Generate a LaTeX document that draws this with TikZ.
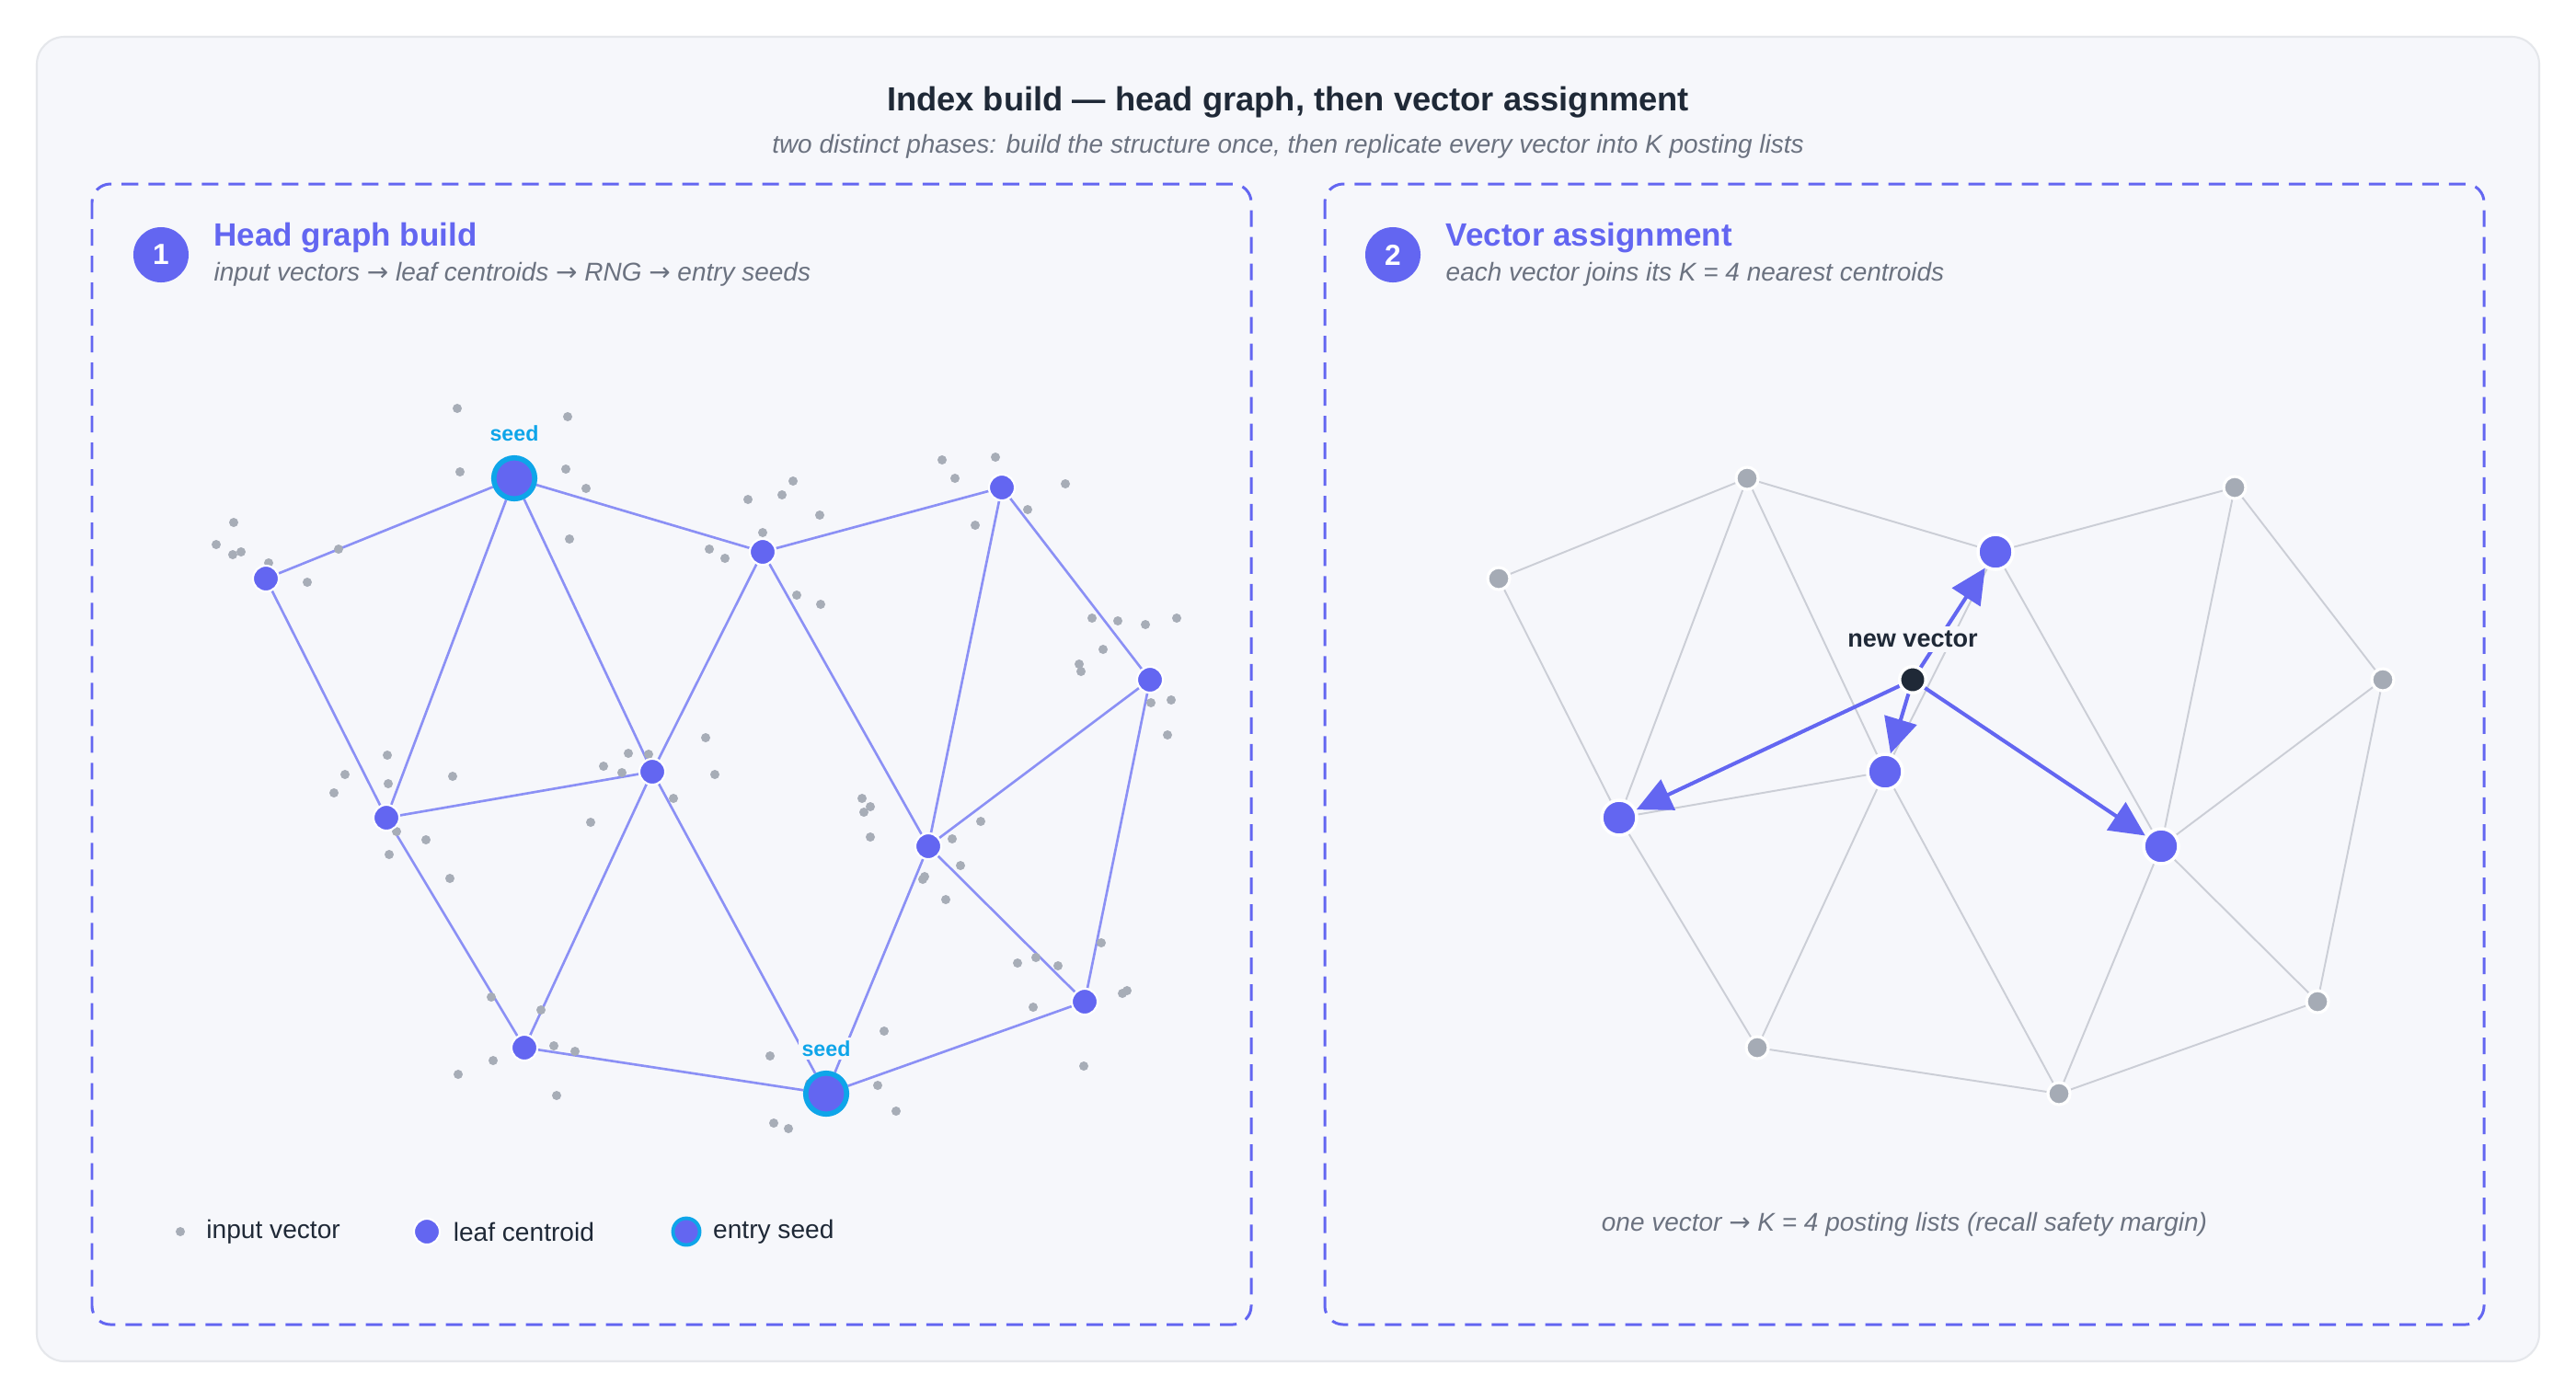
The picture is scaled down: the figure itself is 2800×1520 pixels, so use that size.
\documentclass[tikz,border=0pt]{standalone}
\usepackage{fontspec}
\setmainfont{Liberation Sans}
\newfontfamily\arrowfont{DejaVu Sans}
\usetikzlibrary{arrows.meta,positioning}
\newcommand{\toarrow}{{\arrowfont\char"2192}}
\definecolor{indigo}{HTML}{6366F1}
\definecolor{edgeblue}{HTML}{8B90F5}
\definecolor{sky}{HTML}{0EA5E9}
\definecolor{dotgray}{HTML}{A7ADB7}
\definecolor{nodegray}{HTML}{A5ABB5}
\definecolor{linegray}{HTML}{CBCED6}
\definecolor{ink}{HTML}{1F2937}
\definecolor{muted}{HTML}{6B7280}
\definecolor{cardbg}{HTML}{F6F7FB}
\definecolor{cardline}{HTML}{E5E7EB}
\pgfdeclarelayer{bg}
\pgfdeclarelayer{edges}
\pgfsetlayers{bg,edges,main}

\begin{document}
\begin{tikzpicture}[x=0.01cm,y=-0.01cm,
  vec/.style={circle,fill=dotgray,inner sep=0pt,minimum size=1mm},
  centroid/.style={circle,fill=indigo,draw=white,line width=0.6pt,inner sep=0pt,minimum size=2.8mm},
  seed/.style={circle,fill=indigo,draw=sky,line width=1.6pt,inner sep=0pt,minimum size=4.45mm},
  seedtext/.style={font=\fontsize{6.6pt}{8pt}\selectfont\bfseries,text=sky,fill=cardbg,inner sep=1pt},
  farnode/.style={circle,fill=nodegray,draw=white,line width=0.9pt,inner sep=0pt,minimum size=2.4mm},
  nearnode/.style={circle,fill=indigo,draw=white,line width=1pt,inner sep=0pt,minimum size=3.8mm},
  query/.style={circle,fill=ink,draw=white,line width=1pt,inner sep=0pt,minimum size=2.85mm},
  rng/.style={draw=edgeblue,line width=0.75pt},
  faint/.style={draw=linegray,line width=0.55pt},
  assign/.style={draw=indigo,line width=1.15pt,-{Triangle[length=3.8mm,width=3.6mm]}},
  panel/.style={draw=indigo,line width=0.85pt,dash pattern=on 1.8mm off 1.1mm,rounded corners=2mm},
  badge/.style={circle,fill=indigo,text=white,inner sep=0pt,minimum size=6mm,font=\fontsize{9pt}{10pt}\selectfont\bfseries},
  paneltitle/.style={anchor=west,inner sep=0pt,text=indigo,font=\fontsize{9.95pt}{11pt}\selectfont\bfseries},
  subline/.style={inner sep=0pt,text=muted,font=\fontsize{7.95pt}{9.5pt}\selectfont\itshape},
  legendtext/.style={anchor=west,inner sep=0pt,text=ink,font=\fontsize{8pt}{9pt}\selectfont}
]
\begin{pgfonlayer}{bg}
\fill[white] (0,0) rectangle (2800,1520);
\draw[fill=cardbg,draw=cardline,line width=0.6pt,rounded corners=3mm] (40,40) rectangle (2760,1480);
\end{pgfonlayer}
\useasboundingbox (0,0) rectangle (2800,1520);

\node[font=\fontsize{10.33pt}{12pt}\selectfont\bfseries,text=ink] (title) at (1400,111) {Index build — head graph, then vector assignment};
\node[subline] (subtitle) at (1400,159) {two distinct phases: build the structure once, then replicate every vector into K posting lists};

\draw[panel] (100,200) rectangle (1360,1440);
\draw[panel] (1440,200) rectangle (2700,1440);

\node[badge] (badge1) at (175,277) {1};
\node[paneltitle] (head1) at (232,259) {Head graph build};
\node[subline,anchor=west] (sub1) at (232,298) {input vectors \toarrow{} leaf centroids \toarrow{} RNG \toarrow{} entry seeds};
\node[badge] (badge2) at (1514,277) {2};
\node[paneltitle] (head2) at (1571,259) {Vector assignment};
\node[subline,anchor=west] (sub2) at (1571,298) {each vector joins its K = 4 nearest centroids};

\foreach \x/\y [count=\k] in {497/444,617/453,500/513,615/510,637/531,619/586,
  254/568,235/592,253/603,262/600,292/612,368/597,334/633,
  813/543,850/538,862/523,891/560,829/579,771/597,788/607,866/647,892/657,
  1024/500,1082/497,1038/520,1158/526,1117/554,1060/571,
  1187/672,1215/675,1245/679,1279/672,1199/706,1173/722,1175/730,1251/764,1273/761,1269/799,
  421/821,375/842,363/862,422/852,492/844,431/904,463/913,423/929,489/955,
  767/802,683/819,705/820,656/833,676/840,777/842,732/868,642/894,
  937/868,946/877,939/883,946/910,1066/893,1035/912,1044/941,1005/953,1003/956,1028/978,
  1197/1025,1106/1047,1126/1041,1150/1050,1220/1080,1225/1077,1123/1095,1178/1159,
  534/1084,588/1098,602/1137,625/1143,536/1153,498/1168,605/1191,
  961/1121,954/1180,974/1208,837/1148,880/1178,841/1221,857/1227}
{
	\node[vec] (v\k) at (\x,\y) {};
}

\foreach \n/\x/\y/\l/\r in {a/289/629/centroid/farnode, s1/559/520/seed/farnode,
  b/829/600/centroid/nearnode, c/1089/530/centroid/farnode, d/1250/739/centroid/farnode,
  e/420/889/centroid/nearnode, f/709/839/centroid/nearnode, g/1009/920/centroid/nearnode,
  h/570/1139/centroid/farnode, s2/898/1189/seed/farnode, i/1179/1089/centroid/farnode}
{
	\node[\l] (\n L) at (\x,\y) {};
	\node[\r] (\n R) at (\x+1340,\y) {};
}
\node[seedtext,above=1.1mm of s1L] (s1lab) {seed};
\node[seedtext,above=1.1mm of s2L] (s2lab) {seed};

\begin{pgfonlayer}{edges}
\foreach \p/\q in {a/s1,a/e,s1/e,s1/f,s1/b,b/c,b/f,b/g,c/g,c/d,d/g,d/i,
  e/f,e/h,f/h,f/s2,g/s2,g/i,h/s2,s2/i}
{
	\draw[rng] (\p L) -- (\q L);
	\draw[faint] (\p R) -- (\q R);
}
\end{pgfonlayer}

\node[query] (q) at (2079,739) {};
\foreach \t in {b,e,f,g}
	\draw[assign] (q) -- (\t R);
\node[font=\fontsize{7.7pt}{9pt}\selectfont\bfseries,text=ink,fill=cardbg,inner sep=1.5pt] (qlab) at (2079,695) {new vector};

\node[vec] (key1) at (196,1339) {};
\node[legendtext,right=2.2mm of key1] (key1t) {input vector};
\node[centroid] (key2) at (464,1339) {};
\node[legendtext,right=1.3mm of key2] (key2t) {leaf centroid};
\node[seed,minimum size=2.9mm,line width=1.1pt] (key3) at (746,1339) {};
\node[legendtext,right=1.2mm of key3] (key3t) {entry seed};

\node[subline] (caption) at (2070,1331) {one vector \toarrow{} K = 4 posting lists (recall safety margin)};
\end{tikzpicture}
\end{document}
